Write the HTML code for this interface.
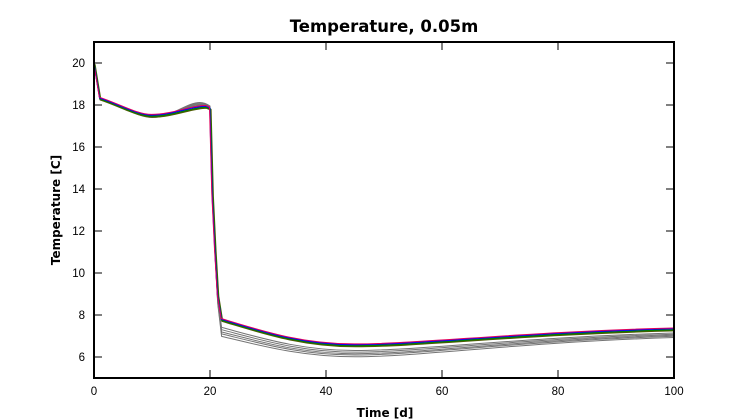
<!DOCTYPE html>
<html><head><meta charset="utf-8"><style>
html,body{margin:0;padding:0;background:#fff;}
svg{display:block;}
</style></head><body>
<svg width="750" height="420" viewBox="0 0 750 420" xmlns="http://www.w3.org/2000/svg">
<rect width="750" height="420" fill="#fff"/>
<text x="384" y="32" font-family="DejaVu Sans, sans-serif" font-weight="bold" font-size="16.5" text-anchor="middle">Temperature, 0.05m</text>

<g fill="none" stroke-linejoin="round">
<g stroke="#666" stroke-width="1" opacity="0.9">
<path d="M94,63 L99.8,98.3 C120,105 138,117.5 152,117.5 C172,117.5 186,102.5 200,102.5 C204,102.5 207,104 210,106 L212.3,195 L215,251.6 L217.7,298.9 L221.6,327.4 C260,337.6 300,350.5 355,350.5 C420,350.5 520,337.3 674,333"/>
<path d="M94,63 L99.8,98.3 C120,105 138,117.1 152,117.1 C172,117.1 186,103.3 200,103.3 C204,103.3 207,104.6 210,106.4 L212.3,195 L215,252 L217.7,300 L221.6,329.7 C260,339.6 300,352.1 355,352.1 C420,352.1 520,338.6 674,334.2"/>
<path d="M94,63 L99.8,98.3 C120,105 138,116.7 152,116.7 C172,116.7 186,104.1 200,104.1 C204,104.1 207,105.2 210,106.8 L212.3,195 L215,252.5 L217.7,301.2 L221.6,332 C260,341.5 300,353.7 355,353.7 C420,353.7 520,339.8 674,335.3"/>
<path d="M94,63 L99.8,98.3 C120,105 138,116.3 152,116.3 C172,116.3 186,104.9 200,104.9 C204,104.9 207,105.8 210,107.2 L212.3,195 L215,252.9 L217.7,302.2 L221.6,333.9 C260,343.2 300,355 355,355 C420,355 520,340.9 674,336.3"/>
<path d="M94,63 L99.8,98.3 C120,105 138,115.9 152,115.9 C172,115.9 186,105.7 200,105.7 C204,105.7 207,106.4 210,107.6 L212.3,195 L215,253.4 L217.7,303.4 L221.6,336.4 C260,345.3 300,356.8 355,356.8 C420,356.8 520,342.2 674,337.5"/>
</g>
<g>
<path transform="translate(0.6,1.3)" stroke="#4d5a00" stroke-width="2" d="M94,63 L99.8,98.3 C120,105 138,115.5 152,115.5 C172,115.5 192,106.5 206,106.5 L210,108.2 L212.3,195 L215,250 L217.7,295 L221.6,319.6 C260,331 300,345 355,345 C420,345 520,333 674,329.1"/>
<path transform="translate(0.3,0.6)" stroke="#008000" stroke-width="1.3" d="M94,63 L99.8,98.3 C120,105 138,115.5 152,115.5 C172,115.5 192,106.5 206,106.5 L210,108.2 L212.3,195 L215,250 L217.7,295 L221.6,319.6 C260,331 300,345 355,345 C420,345 520,333 674,329.1"/>
<path transform="translate(-0.2,-0.4)" stroke="#0000ff" stroke-width="1.2" d="M94,63 L99.8,98.3 C120,105 138,115.5 152,115.5 C172,115.5 192,106.5 206,106.5 L210,108.2 L212.3,195 L215,250 L217.7,295 L221.6,319.6 C260,331 300,345 355,345 C420,345 520,333 674,329.1"/>
<path transform="translate(-0.5,-1.1)" stroke="#e0005a" stroke-width="1" d="M94,63 L99.8,98.3 C120,105 138,115.5 152,115.5 C172,115.5 192,106.5 206,106.5 L210,108.2 L212.3,195 L215,250 L217.7,295 L221.6,319.6 C260,331 300,345 355,345 C420,345 520,333 674,329.1"/>
</g>
</g>

<g stroke="#000" stroke-width="1">
<line x1="94" y1="357" x2="102" y2="357"/><line x1="674" y1="357" x2="666" y2="357"/>
<line x1="94" y1="315" x2="102" y2="315"/><line x1="674" y1="315" x2="666" y2="315"/>
<line x1="94" y1="273" x2="102" y2="273"/><line x1="674" y1="273" x2="666" y2="273"/>
<line x1="94" y1="231" x2="102" y2="231"/><line x1="674" y1="231" x2="666" y2="231"/>
<line x1="94" y1="189" x2="102" y2="189"/><line x1="674" y1="189" x2="666" y2="189"/>
<line x1="94" y1="147" x2="102" y2="147"/><line x1="674" y1="147" x2="666" y2="147"/>
<line x1="94" y1="105" x2="102" y2="105"/><line x1="674" y1="105" x2="666" y2="105"/>
<line x1="94" y1="63" x2="102" y2="63"/><line x1="674" y1="63" x2="666" y2="63"/>
<line x1="210" y1="378" x2="210" y2="370"/><line x1="210" y1="42" x2="210" y2="50"/>
<line x1="326" y1="378" x2="326" y2="370"/><line x1="326" y1="42" x2="326" y2="50"/>
<line x1="442" y1="378" x2="442" y2="370"/><line x1="442" y1="42" x2="442" y2="50"/>
<line x1="558" y1="378" x2="558" y2="370"/><line x1="558" y1="42" x2="558" y2="50"/>
</g>
<rect x="94" y="42" width="580" height="336" fill="none" stroke="#000" stroke-width="2"/>

<g font-family="Liberation Sans, sans-serif" font-size="11.5" fill="#000">
<g text-anchor="end">
<text x="85" y="361">6</text>
<text x="85" y="319">8</text>
<text x="85" y="277">10</text>
<text x="85" y="235">12</text>
<text x="85" y="193">14</text>
<text x="85" y="151">16</text>
<text x="85" y="109">18</text>
<text x="85" y="67">20</text>
</g>
<g text-anchor="middle">
<text x="94" y="395">0</text>
<text x="210" y="395">20</text>
<text x="326" y="395">40</text>
<text x="442" y="395">60</text>
<text x="558" y="395">80</text>
<text x="674" y="395">100</text>
</g>
</g>
<text x="385" y="417" font-family="DejaVu Sans, sans-serif" font-weight="bold" font-size="12" text-anchor="middle">Time [d]</text>
<text transform="translate(60,210) rotate(-90)" font-family="DejaVu Sans, sans-serif" font-weight="bold" font-size="12" text-anchor="middle">Temperature [C]</text>
</svg>
</body></html>
